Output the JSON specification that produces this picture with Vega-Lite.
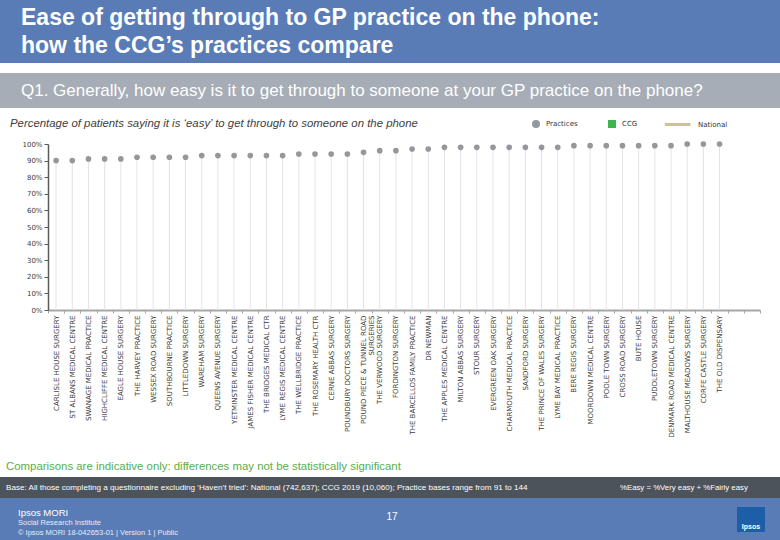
{
  "$schema": "https://vega.github.io/schema/vega-lite/v6.json",
  "padding": 0,
  "background": "white",
  "config": {"view": {"stroke": null}, "font": "Liberation Sans", "concat": {"spacing": 0}},
  "spacing": 0,
  "bounds": "flush",
  "vconcat": [
    {
      "width": 780, "height": 63,
      "view": {"fill": "#5a7cb6", "stroke": null},
      "data": {"values": [{}]},
      "mark": {"type": "point", "opacity": 0},
      "title": {"text": ["Ease of getting through to GP practice on the phone:", "how the CCG’s practices compare"], "orient": "bottom", "anchor": "start", "frame": "group", "baseline": "top", "offset": -56, "dx": 21, "color": "white", "fontSize": 23, "fontWeight": "bold", "font": "Liberation Sans", "lineHeight": 28}
    },
    {
      "width": 780, "height": 10,
      "data": {"values": [{}]},
      "mark": {"type": "point", "opacity": 0}
    },
    {
      "width": 780, "height": 35,
      "view": {"fill": "#a6adb6", "stroke": null},
      "data": {"values": [{}]},
      "mark": {"type": "point", "opacity": 0},
      "title": {"text": "Q1. Generally, how easy is it to get through to someone at your GP practice on the phone?", "orient": "bottom", "anchor": "start", "frame": "group", "baseline": "top", "offset": -25, "dx": 21, "color": "white", "fontSize": 17, "fontWeight": "normal", "font": "Liberation Sans"}
    },
    {
      "width": 780, "height": 36,
      "data": {"values": [{}]},
      "mark": {"type": "point", "opacity": 0},
      "title": {"text": "Percentage of patients saying it is ‘easy’ to get through to someone on the phone", "orient": "bottom", "anchor": "start", "frame": "group", "baseline": "top", "offset": -26, "dx": 10, "color": "#404040", "fontSize": 11.4, "fontStyle": "italic", "fontWeight": "normal", "font": "Liberation Sans"}
    },
    {
      "spacing": 0,
      "bounds": "flush",
      "hconcat": [
        {
          "width": 48, "height": 166,
          "data": {"values": [{}]},
          "mark": {"type": "point", "opacity": 0}
        },
        {
          "width": 712, "height": 166,
          "data": {"values": [
            {"practice": "CARLISLE HOUSE SURGERY", "easy": 0.90, "series": "Practices"},
            {"practice": "ST ALBANS MEDICAL CENTRE", "easy": 0.90, "series": "Practices"},
            {"practice": "SWANAGE MEDICAL PRACTICE", "easy": 0.91, "series": "Practices"},
            {"practice": "HIGHCLIFFE MEDICAL CENTRE", "easy": 0.91, "series": "Practices"},
            {"practice": "EAGLE HOUSE SURGERY", "easy": 0.91, "series": "Practices"},
            {"practice": "THE HARVEY PRACTICE", "easy": 0.92, "series": "Practices"},
            {"practice": "WESSEX ROAD SURGERY", "easy": 0.92, "series": "Practices"},
            {"practice": "SOUTHBOURNE PRACTICE", "easy": 0.92, "series": "Practices"},
            {"practice": "LITTLEDOWN SURGERY", "easy": 0.92, "series": "Practices"},
            {"practice": "WAREHAM SURGERY", "easy": 0.93, "series": "Practices"},
            {"practice": "QUEENS AVENUE SURGERY", "easy": 0.93, "series": "Practices"},
            {"practice": "YETMINSTER MEDICAL CENTRE", "easy": 0.93, "series": "Practices"},
            {"practice": "JAMES FISHER MEDICAL CENTRE", "easy": 0.93, "series": "Practices"},
            {"practice": "THE BRIDGES MEDICAL CTR", "easy": 0.93, "series": "Practices"},
            {"practice": "LYME REGIS MEDICAL CENTRE", "easy": 0.93, "series": "Practices"},
            {"practice": "THE WELLBRIDGE PRACTICE", "easy": 0.94, "series": "Practices"},
            {"practice": "THE ROSEMARY HEALTH CTR", "easy": 0.94, "series": "Practices"},
            {"practice": "CERNE ABBAS SURGERY", "easy": 0.94, "series": "Practices"},
            {"practice": "POUNDBURY DOCTORS SURGERY", "easy": 0.94, "series": "Practices"},
            {"practice": "POUND PIECE & TUNNEL ROAD SURGERIES", "easy": 0.95, "series": "Practices"},
            {"practice": "THE VERWOOD SURGERY", "easy": 0.96, "series": "Practices"},
            {"practice": "FORDINGTON SURGERY", "easy": 0.96, "series": "Practices"},
            {"practice": "THE BARCELLOS FAMILY PRACTICE", "easy": 0.97, "series": "Practices"},
            {"practice": "DR NEWMAN", "easy": 0.97, "series": "Practices"},
            {"practice": "THE APPLES MEDICAL CENTRE", "easy": 0.98, "series": "Practices"},
            {"practice": "MILTON ABBAS SURGERY", "easy": 0.98, "series": "Practices"},
            {"practice": "STOUR SURGERY", "easy": 0.98, "series": "Practices"},
            {"practice": "EVERGREEN OAK SURGERY", "easy": 0.98, "series": "Practices"},
            {"practice": "CHARMOUTH MEDICAL PRACTICE", "easy": 0.98, "series": "Practices"},
            {"practice": "SANDFORD SURGERY", "easy": 0.98, "series": "Practices"},
            {"practice": "THE PRINCE OF WALES SURGERY", "easy": 0.98, "series": "Practices"},
            {"practice": "LYME BAY MEDICAL PRACTICE", "easy": 0.98, "series": "Practices"},
            {"practice": "BERE REGIS SURGERY", "easy": 0.99, "series": "Practices"},
            {"practice": "MOORDOWN MEDICAL CENTRE", "easy": 0.99, "series": "Practices"},
            {"practice": "POOLE TOWN SURGERY", "easy": 0.99, "series": "Practices"},
            {"practice": "CROSS ROAD SURGERY", "easy": 0.99, "series": "Practices"},
            {"practice": "BUTE HOUSE", "easy": 0.99, "series": "Practices"},
            {"practice": "PUDDLETOWN SURGERY", "easy": 0.99, "series": "Practices"},
            {"practice": "DENMARK ROAD MEDICAL CENTRE", "easy": 0.99, "series": "Practices"},
            {"practice": "MALTHOUSE MEADOWS SURGERY", "easy": 1.00, "series": "Practices"},
            {"practice": "CORFE CASTLE SURGERY", "easy": 1.00, "series": "Practices"},
            {"practice": "THE OLD DISPENSARY", "easy": 1.00, "series": "Practices"}
          ]},
          "encoding": {
            "x": {
              "field": "practice", "type": "nominal",
              "scale": {"domain": ["CARLISLE HOUSE SURGERY", "ST ALBANS MEDICAL CENTRE", "SWANAGE MEDICAL PRACTICE", "HIGHCLIFFE MEDICAL CENTRE", "EAGLE HOUSE SURGERY", "THE HARVEY PRACTICE", "WESSEX ROAD SURGERY", "SOUTHBOURNE PRACTICE", "LITTLEDOWN SURGERY", "WAREHAM SURGERY", "QUEENS AVENUE SURGERY", "YETMINSTER MEDICAL CENTRE", "JAMES FISHER MEDICAL CENTRE", "THE BRIDGES MEDICAL CTR", "LYME REGIS MEDICAL CENTRE", "THE WELLBRIDGE PRACTICE", "THE ROSEMARY HEALTH CTR", "CERNE ABBAS SURGERY", "POUNDBURY DOCTORS SURGERY", "POUND PIECE & TUNNEL ROAD SURGERIES", "THE VERWOOD SURGERY", "FORDINGTON SURGERY", "THE BARCELLOS FAMILY PRACTICE", "DR NEWMAN", "THE APPLES MEDICAL CENTRE", "MILTON ABBAS SURGERY", "STOUR SURGERY", "EVERGREEN OAK SURGERY", "CHARMOUTH MEDICAL PRACTICE", "SANDFORD SURGERY", "THE PRINCE OF WALES SURGERY", "LYME BAY MEDICAL PRACTICE", "BERE REGIS SURGERY", "MOORDOWN MEDICAL CENTRE", "POOLE TOWN SURGERY", "CROSS ROAD SURGERY", "BUTE HOUSE", "PUDDLETOWN SURGERY", "DENMARK ROAD MEDICAL CENTRE", "MALTHOUSE MEADOWS SURGERY", "CORFE CASTLE SURGERY", "THE OLD DISPENSARY", " ", "  "], "paddingInner": 0, "paddingOuter": 0},
              "axis": {"title": null, "labelAngle": 270, "labelAlign": "right", "labelBaseline": "middle", "labelFontSize": 7, "labelFont": "DejaVu Sans", "labelColor": "#3a3a3a", "labelPadding": 2, "labelLimit": 200, "labelOverlap": false, "labelLineHeight": 8, "domainColor": "#a6a6a6", "domainWidth": 2, "tickColor": "#a6a6a6", "tickSize": 3, "tickWidth": 1, "tickBand": "extent", "labelExpr": "datum.label == 'POUND PIECE & TUNNEL ROAD SURGERIES' ? ['POUND PIECE & TUNNEL ROAD', 'SURGERIES'] : datum.label"}
            },
            "y": {
              "field": "easy", "type": "quantitative",
              "scale": {"domain": [0, 1]},
              "axis": {"title": null, "values": [0, 0.1, 0.2, 0.3, 0.4, 0.5, 0.6, 0.7, 0.8, 0.9, 1], "format": ".0%", "grid": false, "domainColor": "#595959", "domainWidth": 1.5, "tickColor": "#595959", "tickSize": 4, "labelFontSize": 7, "labelFont": "DejaVu Sans", "labelColor": "#404040", "labelPadding": 2}
            }
          },
          "layer": [
            {
              "mark": {"type": "rule", "color": "#e3e3e3", "strokeWidth": 1},
              "encoding": {"y2": {"datum": 0}}
            },
            {
              "mark": {"type": "point", "filled": true, "size": 32, "opacity": 1},
              "encoding": {
                "color": {"field": "series", "type": "nominal", "scale": {"domain": ["Practices", "CCG", "National"], "range": ["#94979b", "#3db54a", "#cec38e"]},
                  "legend": {"title": null, "orient": "none", "legendX": 532, "legendY": 120, "direction": "horizontal", "columns": 3, "gridAlign": "all", "columnPadding": 10, "symbolSize": 64, "symbolStrokeWidth": 0, "symbolOpacity": 1, "labelFontSize": 7, "labelFont": "DejaVu Sans", "labelColor": "#333333", "labelOffset": 6, "padding": 0, "rowPadding": 0}},
                "shape": {"field": "series", "type": "nominal", "scale": {"domain": ["Practices", "CCG", "National"], "range": ["circle", "square", "M-5.8,-0.38H0.6V0.38H-5.8Z"]},
                  "legend": {"title": null, "orient": "none", "legendX": 532, "legendY": 120, "direction": "horizontal", "columns": 3, "gridAlign": "all", "columnPadding": 10, "symbolSize": 64, "symbolStrokeWidth": 0, "symbolOpacity": 1, "labelFontSize": 7, "labelFont": "DejaVu Sans", "labelColor": "#333333", "labelOffset": 6, "padding": 0, "rowPadding": 0}}
              }
            }
          ]
        }
      ]
    },
    {
      "width": 780, "height": 333,
      "data": {"values": [{}]},
      "mark": {"type": "point", "opacity": 0},
      "title": {"text": "Comparisons are indicative only: differences may not be statistically significant", "orient": "bottom", "anchor": "start", "frame": "group", "baseline": "top", "offset": -16, "dx": 6, "color": "#5aad4e", "fontSize": 11.4, "fontWeight": "normal", "font": "Liberation Sans"}
    },
    {
      "spacing": 0,
      "bounds": "flush",
      "hconcat": [
        {
          "width": 600, "height": 21,
          "view": {"fill": "#4d535b", "stroke": null},
          "data": {"values": [{}]},
          "mark": {"type": "point", "opacity": 0},
          "title": {"text": "Base: All those completing a questionnaire excluding ‘Haven’t tried’: National (742,637); CCG 2019 (10,060); Practice bases range from 91 to 144", "orient": "bottom", "anchor": "start", "frame": "group", "baseline": "top", "offset": -14.5, "dx": 6, "color": "white", "fontSize": 8.1, "fontWeight": "normal", "font": "Liberation Sans"}
        },
        {
          "width": 180, "height": 21,
          "view": {"fill": "#4d535b", "stroke": null},
          "data": {"values": [{}]},
          "mark": {"type": "point", "opacity": 0},
          "title": {"text": "%Easy = %Very easy + %Fairly easy", "orient": "bottom", "anchor": "start", "frame": "group", "baseline": "top", "offset": -14.5, "dx": 20, "color": "white", "fontSize": 7.8, "fontWeight": "normal", "font": "Liberation Sans"}
        }
      ]
    },
    {
      "width": 780, "height": 21,
      "data": {"values": [{}]},
      "mark": {"type": "point", "opacity": 0}
    },
    {
      "spacing": 0,
      "bounds": "flush",
      "hconcat": [
        {
          "width": 300, "height": 42,
          "view": {"fill": "#5a7cb6", "stroke": null},
          "data": {"values": [{}]},
          "mark": {"type": "point", "opacity": 0},
          "title": {"text": "Ipsos MORI", "subtitle": ["Social Research Institute", "© Ipsos MORI     18-042653-01 | Version 1 | Public"], "orient": "bottom", "anchor": "start", "frame": "group", "baseline": "top", "offset": -32.5, "dx": 18, "color": "white", "fontSize": 9.5, "fontWeight": "normal", "font": "Liberation Sans", "subtitleColor": "#e6ecf6", "subtitleFont": "Liberation Sans", "subtitleFontSize": 7.5, "subtitleLineHeight": 10, "subtitlePadding": 2}
        },
        {
          "width": 184, "height": 42,
          "view": {"fill": "#5a7cb6", "stroke": null},
          "data": {"values": [{}]},
          "mark": {"type": "point", "opacity": 0},
          "title": {"text": "17", "orient": "bottom", "anchor": "middle", "frame": "group", "baseline": "top", "offset": -28, "color": "white", "fontSize": 10, "fontWeight": "normal", "font": "Liberation Sans"}
        },
        {
          "width": 253, "height": 42,
          "view": {"fill": "#5a7cb6", "stroke": null},
          "data": {"values": [{}]},
          "mark": {"type": "point", "opacity": 0}
        },
        {
          "spacing": 0,
          "bounds": "flush",
          "vconcat": [
            {
              "width": 28, "height": 9,
              "view": {"fill": "#5a7cb6", "stroke": null},
              "data": {"values": [{}]},
              "mark": {"type": "point", "opacity": 0}
            },
            {
              "width": 28, "height": 25,
              "view": {"fill": "#1d5fa6", "stroke": null},
              "data": {"values": [{}]},
              "mark": {"type": "point", "opacity": 0},
              "title": {"text": "Ipsos", "orient": "bottom", "anchor": "middle", "frame": "group", "baseline": "top", "offset": -9, "color": "white", "fontSize": 7, "fontWeight": "bold", "font": "Liberation Sans"}
            },
            {
              "width": 28, "height": 8,
              "view": {"fill": "#5a7cb6", "stroke": null},
              "data": {"values": [{}]},
              "mark": {"type": "point", "opacity": 0}
            }
          ]
        },
        {
          "width": 28, "height": 42,
          "data": {"values": [{}]},
          "mark": {"type": "point", "opacity": 0}
        },
        {
          "width": 15, "height": 42,
          "view": {"fill": "#5a7cb6", "stroke": null},
          "data": {"values": [{}]},
          "mark": {"type": "point", "opacity": 0}
        }
      ]
    }
  ]
}
